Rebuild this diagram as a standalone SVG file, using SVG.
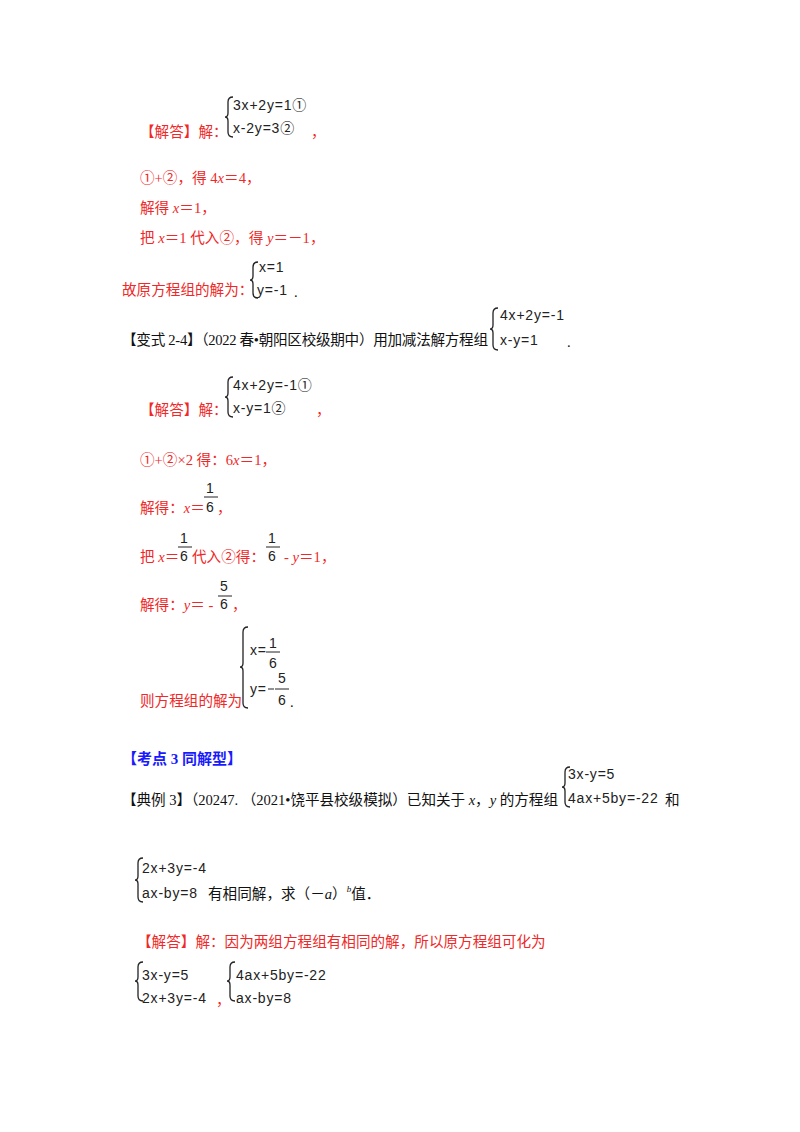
<svg xmlns="http://www.w3.org/2000/svg" width="800" height="1132" viewBox="0 0 800 1132">
<style>
text{font-family:"Liberation Serif","Noto Sans CJK SC",serif;font-size:14.6px}
.r{fill:#f02828}
.k{fill:#111}
.m{font-family:"Liberation Sans","Noto Sans CJK SC",sans-serif;font-size:14px;letter-spacing:0.8px;fill:#222}
.b{fill:#1a1aff;font-weight:bold;font-size:15px}
.br{fill:none;stroke:#222;stroke-width:1.3}
.fl{stroke:#222;stroke-width:1}
</style>
<rect width="800" height="1132" fill="#fff"/>
<g id="sol1">
<text class="r" x="140" y="137">【解答】解：</text>
<path class="br" d="M233,97 Q228,97 228,102 L228,113 Q228,117 225,117 Q228,117 228,121 L228,132 Q228,137 233,137"/>
<text class="m" x="233" y="110">3x+2y=1①</text>
<text class="m" x="233" y="133">x-2y=3②</text>
<text class="r" x="311" y="137">，</text>
<text class="r" x="140" y="183">①+②，得 4<tspan font-style="italic">x</tspan>＝4，</text>
<text class="r" x="140" y="213">解得 <tspan font-style="italic">x</tspan>＝1，</text>
<text class="r" x="140" y="243">把 <tspan font-style="italic">x</tspan>＝1 代入②，得 <tspan font-style="italic">y</tspan>＝－1，</text>
<text class="r" x="122" y="295">故原方程组的解为：</text>
<path class="br" d="M258,262 Q253,262 253,267 L253,276 Q253,280 250,280 Q253,280 253,284 L253,293 Q253,298 258,298"/>
<text class="m" x="259" y="272">x=1</text>
<text class="m" x="257" y="295">y=-1</text>
<text class="k" x="294" y="297">.</text>
</g>
<g id="var24">
<text class="k" x="122" y="345" textLength="366" lengthAdjust="spacing">【变式 2-4】（2022 春•朝阳区校级期中）用加减法解方程组</text>
<path class="br" d="M498,308 Q493,308 493,313 L493,325 Q493,329 490,329 Q493,329 493,333 L493,345 Q493,350 498,350"/>
<text class="m" x="500" y="320">4x+2y=-1</text>
<text class="m" x="500" y="345">x-y=1</text>
<text class="k" x="567" y="347">.</text>
</g>
<g id="sol2">
<text class="r" x="140" y="415">【解答】解：</text>
<path class="br" d="M233,377 Q228,377 228,382 L228,393 Q228,397 225,397 Q228,397 228,401 L228,412 Q228,417 233,417"/>
<text class="m" x="233" y="390">4x+2y=-1①</text>
<text class="m" x="233" y="413">x-y=1②</text>
<text class="r" x="316" y="415">，</text>
<text class="r" x="140" y="465">①+②×2 得：6<tspan font-style="italic">x</tspan>＝1，</text>
<text class="r" x="140" y="513">解得：<tspan font-style="italic">x</tspan>＝</text>
<text class="m" x="206" y="493">1</text><line class="fl" x1="204" y1="497" x2="218" y2="497"/><text class="m" x="206" y="512">6</text>
<text class="r" x="217" y="513">，</text>
<text class="r" x="140" y="562">把 <tspan font-style="italic">x</tspan>＝</text>
<text class="m" x="180" y="543">1</text><line class="fl" x1="178" y1="547" x2="192" y2="547"/><text class="m" x="180" y="561">6</text>
<text class="r" x="192" y="562">代入②得：</text>
<text class="m" x="268" y="543">1</text><line class="fl" x1="266" y1="547" x2="280" y2="547"/><text class="m" x="268" y="561">6</text>
<text class="r" x="284" y="562">- <tspan font-style="italic">y</tspan>＝1，</text>
<text class="r" x="140" y="610">解得：<tspan font-style="italic">y</tspan>＝ -</text>
<text class="m" x="220" y="591">5</text><line class="fl" x1="218" y1="596" x2="232" y2="596"/><text class="m" x="220" y="609">6</text>
<text class="r" x="232" y="610">，</text>
<text class="r" x="140" y="706">则方程组的解为</text>
<path class="br" d="M248,627 Q243,627 243,632 L243,663 Q243,667 240,667 Q243,667 243,671 L243,703 Q243,708 248,708"/>
<text class="m" x="250" y="655">x=</text>
<text class="m" x="269" y="648">1</text><line class="fl" x1="266" y1="652" x2="280" y2="652"/><text class="m" x="269" y="668">6</text>
<text class="m" x="250" y="694">y=</text>
<line class="fl" x1="268" y1="689" x2="274" y2="689"/>
<text class="m" x="278" y="683">5</text><line class="fl" x1="275" y1="689" x2="289" y2="689"/><text class="m" x="278" y="705">6</text>
<text class="k" x="290" y="707">.</text>
</g>
<g id="kaodian3">
<text class="b" x="122" y="764">【考点 3 同解型】</text>
</g>
<g id="example3">
<text class="k" x="122" y="805" textLength="436" lengthAdjust="spacing">【典例 3】（20247. （2021•饶平县校级模拟）已知关于 <tspan font-style="italic">x</tspan>，<tspan font-style="italic">y</tspan> 的方程组</text>
<path class="br" d="M570,767 Q565,767 565,772 L565,783 Q565,787 562,787 Q565,787 565,791 L565,802 Q565,807 570,807"/>
<text class="m" x="568" y="779">3x-y=5</text>
<text class="m" x="568" y="803">4ax+5by=-22</text>
<text class="k" x="665" y="805">和</text>
<path class="br" d="M143,858 Q138,858 138,863 L138,876 Q138,880 135,880 Q138,880 138,884 L138,897 Q138,902 143,902"/>
<text class="m" x="142" y="873">2x+3y=-4</text>
<text class="m" x="142" y="898">ax-by=8</text>
<text class="k" x="208" y="899">有相同解，求（－<tspan font-style="italic">a</tspan>）<tspan font-style="italic" font-size="9" dy="-7">b</tspan><tspan dy="7">值．</tspan></text>
</g>
<g id="sol3">
<text class="r" x="137" y="947">【解答】解：因为两组方程组有相同的解，所以原方程组可化为</text>
<path class="br" d="M143,962 Q138,962 138,967 L138,977 Q138,981 135,981 Q138,981 138,985 L138,996 Q138,1001 143,1001"/>
<text class="m" x="142" y="980">3x-y=5</text>
<text class="m" x="142" y="1003">2x+3y=-4</text>
<text class="r" x="216" y="1005">，</text>
<path class="br" d="M235,962 Q230,962 230,967 L230,977 Q230,981 227,981 Q230,981 230,985 L230,996 Q230,1001 235,1001"/>
<text class="m" x="236" y="980">4ax+5by=-22</text>
<text class="m" x="236" y="1003">ax-by=8</text>
</g>
</svg>
